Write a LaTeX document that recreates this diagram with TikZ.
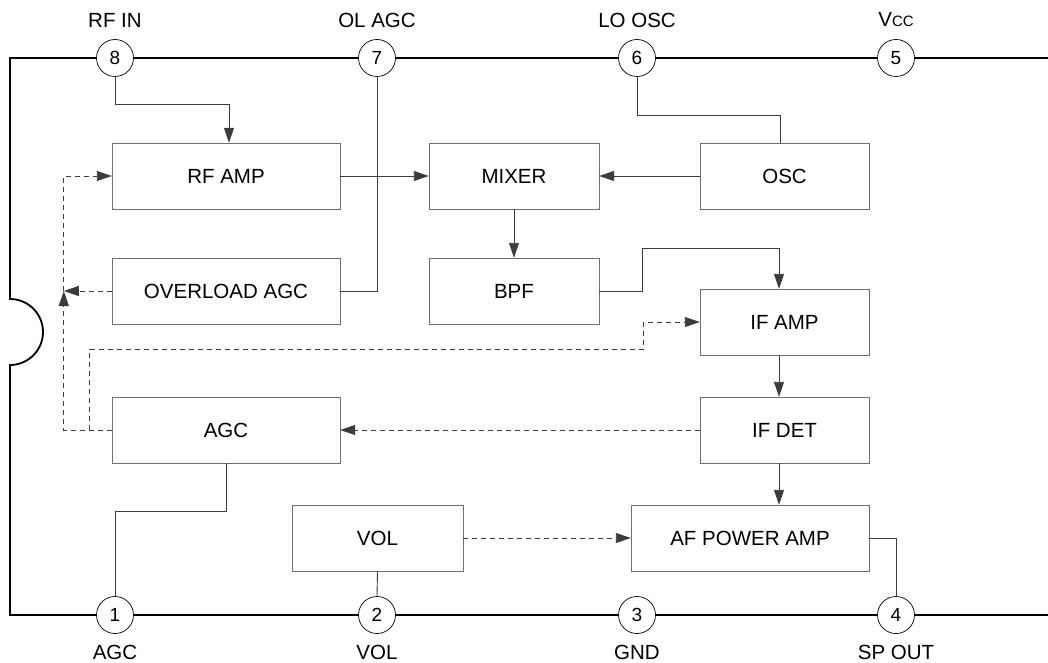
\documentclass[tikz,border=0pt]{standalone}
\usepackage{fontspec}
\setmainfont{Liberation Sans}
\usetikzlibrary{arrows.meta}

\definecolor{radioChipBlockDraw}{RGB}{110,110,110}
\definecolor{radioChipWire}{RGB}{60,60,60}
\tikzset{radioChipBlock/.style={
    font=\fontsize{20.5}{24}\selectfont,
    draw=radioChipBlockDraw,
    thin,
    minimum height=66pt,
    inner sep=0pt,
  }
}
\tikzset{radioChipPin/.style={
    circle,
    font=\fontsize{19}{20}\selectfont,
    draw=black,
    fill=white,
    line width=0.7pt,
    minimum size=37pt,
    inner sep=0pt,
  }
}
\tikzset{radioChipPinLabel/.style={
    font=\fontsize{20.5}{24}\selectfont,
    inner sep=0pt,
  }
}
\tikzset{radioChipWireLine/.style={
    radioChipWire,
    line width=0.9pt,
  }
}
\tikzset{radioChipArrow/.style={
    radioChipWireLine,
    -{Triangle[length=15pt,width=10pt]},
  }
}
\tikzset{radioChipDashArrow/.style={
    radioChipArrow,
    dash pattern=on 5pt off 4pt,
  }
}
\newcommand{\radioChipDrawOutline}{
  \draw[line width=1.8pt] (1048,58) -- (10,58) -- (10,299)
  arc[start angle=-90, end angle=90, radius=33] -- (10,615) -- (1048,615);
}
\newcommand{\radioChipDrawPins}{
  \node [radioChipPin] (p8) at (115,58) {8};
  \node [radioChipPin] (p7) at (377,58) {7};
  \node [radioChipPin] (p6) at (637,58) {6};
  \node [radioChipPin] (p5) at (896,58) {5};
  \node [radioChipPin] (p1) at (115,615) {1};
  \node [radioChipPin] (p2) at (377,615) {2};
  \node [radioChipPin] (p3) at (637,615) {3};
  \node [radioChipPin] (p4) at (896,615) {4};
}
\newcommand{\radioChipDrawBlocks}{
  \node [radioChipBlock, minimum width=228pt] (rfamp)
  at (226,176) {RF AMP};
  \node [radioChipBlock, minimum width=228pt] (ovlagc)
  at (226,291) {OVERLOAD AGC};
  \node [radioChipBlock, minimum width=170pt] (mixer)
  at (514,176) {MIXER};
  \node [radioChipBlock, minimum width=170pt] (bpf)
  at (514,291) {BPF};
  \node [radioChipBlock, minimum width=169pt] (osc)
  at (784.5,176) {OSC};
  \node [radioChipBlock, minimum width=169pt] (ifamp)
  at (784.5,322) {IF AMP};
  \node [radioChipBlock, minimum width=169pt] (ifdet)
  at (784.5,430) {IF DET};
  \node [radioChipBlock, minimum width=228pt] (agc)
  at (226,430) {AGC};
  \node [radioChipBlock, minimum width=171pt] (vol)
  at (377.5,538) {VOL};
  \node [radioChipBlock, minimum width=238pt] (afamp)
  at (750,538) {AF POWER AMP};
}
\newcommand{\radioChipConnectBlocks}{
  \draw[radioChipArrow] (p8.south) -- ++(0,28) -| ([xshift=3pt]rfamp.north);
  \draw[radioChipWireLine] (p7.south) |- (ovlagc.east);
  \draw[radioChipArrow] (rfamp.east) -- (mixer.west);
  \draw[radioChipArrow] (osc.west) -- (mixer.east);
  \draw[radioChipWireLine] (p6.south) -- ++(0,39) -| ([xshift=-4pt]osc.north);
  \draw[radioChipArrow] (mixer.south) -- (bpf.north);
  \draw[radioChipArrow] (bpf.east) -| ++(43,-43) -| ([xshift=-5.5pt]ifamp.north);
  \draw[radioChipArrow] ([xshift=-5.5pt]ifamp.south) -- ([xshift=-5.5pt]ifdet.north);
  \draw[radioChipArrow] ([xshift=-5.5pt]ifdet.south) -- ([xshift=-5.5pt]ifdet.south |- afamp.north);
  \draw[radioChipWireLine] (afamp.east) -| (p4.north);
  \draw[radioChipWireLine] (agc.south) -- ++(0,48) -| (p1.north);
  \draw[radioChipWireLine] (vol.south) -- (p2.north);
}
\newcommand{\radioChipConnectControl}{
  \coordinate (fbJoin) at ([xshift=-48pt]ovlagc.west);
  \coordinate (fbBranch) at ([xshift=-22pt]agc.west);
  \draw[radioChipDashArrow] (vol.east) -- (afamp.west);
  \draw[radioChipDashArrow] (ifdet.west) -- (agc.east);
  \draw[radioChipDashArrow] (agc.west) -| (fbJoin);
  \draw[radioChipDashArrow] (ovlagc.west) -- (fbJoin);
  \draw[radioChipDashArrow] (fbJoin) |- (rfamp.west);
  \draw[radioChipDashArrow] (fbBranch) |- ([xshift=-56pt, yshift=-27pt]ifamp.west)
  |- (ifamp.west);
}

\begin{document}
\begin{tikzpicture}[x=1pt, y=-1pt]
      \useasboundingbox (0,0) rectangle (1048,663);
      \radioChipDrawOutline
      \radioChipDrawPins
      \radioChipDrawBlocks
      \radioChipConnectBlocks
      \radioChipConnectControl

      \node [radioChipPinLabel] (l8) at (115,20) {RF IN};
      \node [radioChipPinLabel] (l7) at (377,20) {OL AGC};
      \node [radioChipPinLabel] (l6) at (637,20) {LO OSC};
      \node [radioChipPinLabel] (l5) at (896,20) {V{\fontsize{15}{15}\selectfont CC}};
      \node [radioChipPinLabel] (l1) at (115,652) {AGC};
      \node [radioChipPinLabel] (l2) at (377,652) {VOL};
      \node [radioChipPinLabel] (l3) at (637,652) {GND};
      \node [radioChipPinLabel] (l4) at (896,652) {SP OUT};
    \end{tikzpicture}
\end{document}
